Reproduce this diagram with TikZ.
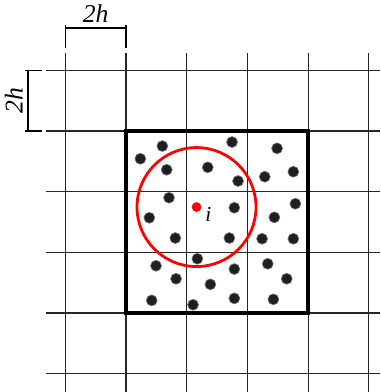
\documentclass[tikz,border=0pt]{standalone}
\usepackage{fontspec}
\setmainfont{Liberation Serif}
\usetikzlibrary{positioning}

\begin{document}
\begin{tikzpicture}[
  font=\itshape\fontsize{10}{12}\selectfont,
  gridline/.style={line width=0.55pt, draw=black!85},
  cellbox/.style={line width=1.9pt, draw=black},
  particle/.style={circle, fill=black!88, draw=black!55, line width=0.3pt,
                   minimum size=1.8mm, inner sep=0pt},
  target/.style={circle, fill=red, minimum size=1.6mm, inner sep=0pt},
  support/.style={draw=red, line width=1.3pt},
  dimline/.style={line width=0.55pt, draw=black},
  dimlbl/.style={font=\itshape\fontsize{12}{14}\selectfont, inner sep=1pt},
]

% --- frame of the picture ---
\useasboundingbox (-2.076,-1.30) rectangle (4.185,5.157);

% --- background grid of cells (side 2h) ---
\def\xL{-1.32}
\def\xR{4.185}
\def\yB{-1.30}
\def\yT{4.28}
\foreach \g in {-1,0,1,2,3,4} {
  \draw[gridline] (\g,\yB) -- (\g,\yT);
  \draw[gridline] (\xL,\g) -- (\xR,\g);
}

% --- neighbour block (3 x 3 cells) ---
\draw[cellbox] (0,0) rectangle (3,3);

% --- particles ---
\foreach \x/\y [count=\n] in {
  0.598/2.751, 0.236/2.542, 0.670/2.361, 1.746/2.817, 1.346/2.400,
  1.845/2.175, 0.708/1.900, 0.384/1.570, 1.784/1.735, 2.488/2.713,
  2.285/2.246, 2.756/2.328, 2.789/1.801, 2.443/1.577, 0.812/1.236,
  1.702/1.236, 0.494/0.779, 1.175/0.895, 1.784/0.725, 0.824/0.565,
  1.389/0.473, 0.423/0.209, 1.104/0.137, 1.784/0.242, 2.241/1.224,
  2.756/1.224, 2.334/0.812, 2.647/0.565, 2.427/0.226} {
  \node[particle] (p\n) at (\x,\y) {};
}

% --- particle i and its support domain ---
\node[target] (pi) at (1.161,1.746) {};
\node[right=0.5mm of pi, yshift=-1.2mm, inner sep=0pt] (ilbl) {i};
\draw[support] (pi) circle (0.98);

% --- dimension: cell width ---
\coordinate (dwa) at (-1,4.695);
\coordinate (dwb) at (0,4.695);
\draw[dimline] (-1,4.745) -- (-1,4.366);
\draw[dimline] (0,4.745) -- (0,4.366);
\draw[dimline] (dwa) -- (dwb);
\node[dimlbl] (dwl) at (-0.5,4.93) {2h};

% --- dimension: cell height ---
\coordinate (dha) at (-1.614,3);
\coordinate (dhb) at (-1.614,4);
\draw[dimline] (-1.664,3) -- (-1.384,3);
\draw[dimline] (-1.664,4) -- (-1.384,4);
\draw[dimline] (dha) -- (dhb);
\node[dimlbl, rotate=90] (dhl) at (-1.85,3.5) {2h};

\end{tikzpicture}
\end{document}
